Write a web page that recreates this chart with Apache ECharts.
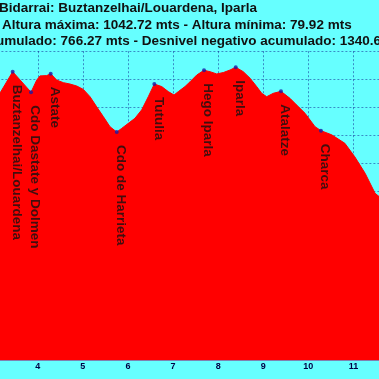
<!DOCTYPE html>
<html>
<head>
<meta charset="utf-8">
<script src="https://cdn.jsdelivr.net/npm/echarts@6/dist/echarts.min.js"></script>
<style>
html,body{margin:0;padding:0;background:#66ffff;width:379px;height:379px;overflow:hidden;position:relative;}
#c{position:absolute;left:-143px;top:0;width:542px;height:379px;}
</style>
</head>
<body>
<div id="c"></div>
<script>
// ---- data ----
var titleLine1 = 'Bidarrai: Buztanzelhai/Louardena, Iparla';
var titleLine2 = 'Altura máxima: 1042.72 mts - Altura mínima: 79.92 mts';
var titleLine3 = 'Desnivel positivo acumulado: 766.27 mts - Desnivel negativo acumulado: 1340.6';
var titleLine3Tail = '5 mts';

var distKm = [3.0, 3.163, 3.444, 3.850, 3.977, 4.050, 4.198, 4.287, 4.420, 4.567, 4.715, 4.864, 5.010, 5.159, 5.307, 5.454, 5.602, 5.751, 5.861, 6.008, 6.155, 6.305, 6.451, 6.585, 6.749, 6.895, 7.022, 7.117, 7.265, 7.377, 7.525, 7.687, 7.820, 7.969, 8.115, 8.264, 8.390, 8.558, 8.707, 8.855, 8.966, 9.077, 9.224, 9.394, 9.594, 9.743, 9.927, 10.149, 10.280, 10.519, 10.810, 11.030, 11.260, 11.480, 11.570, 11.750];
var altitude = [900, 951, 1027, 954, 997, 1012, 1013, 1020, 997, 988, 983, 976, 964, 938, 902, 867, 831, 812, 825, 843, 861, 891, 938, 983, 974, 956, 944, 956, 974, 991, 1015, 1032, 1027, 1019, 1024, 1033, 1042.72, 1027, 1004, 974, 950, 938, 950, 957, 932, 908, 879, 831, 817, 802, 772, 724, 665, 594, 582, 540];

var peakNames = ['Buztanzelhai/Louardena', 'Cdo Dastate y Dolmen', 'Astate', 'Cdo de Harrieta', 'Tutulia', 'Hego Iparla', 'Iparla', 'Atalatze', 'Charca'];
var peakKm = [3.444, 3.850, 4.287, 5.751, 6.585, 7.687, 8.390, 9.394, 10.280];
var peakAlt = [1027, 954, 1020, 812, 983, 1032, 1042.72, 957, 817];

var xMin = 0, xMax = 12, xInterval = 1;
var yMin = 0, yMax = 1100, yInterval = 100;

// ---- build ----
var profile = distKm.map(function (d, i) { return [d, altitude[i]]; });
var peaks = peakNames.map(function (n, i) { return { name: n, value: [peakKm[i], peakAlt[i]] }; });

var shift = 143; // chart container is shifted left by this many px
var titleFont = 'bold 13.5px "Liberation Sans", Arial, sans-serif';
var cv = document.createElement('canvas').getContext('2d');
cv.font = titleFont;
var w3 = cv.measureText(titleLine3).width;

var chart = echarts.init(document.getElementById('c'), null, { renderer: 'canvas' });
var gridLine = { show: true, lineStyle: { color: 'rgba(0,0,128,0.45)', type: [2, 2], width: 1 } };
chart.setOption({
  animation: false,
  backgroundColor: '#66ffff',
  grid: { left: 0.4, right: 0.5, top: 51.2, bottom: 19, containLabel: false, outerBoundsMode: 'none' },
  xAxis: {
    type: 'value', min: xMin, max: xMax, interval: xInterval,
    axisLine: { show: true, lineStyle: { color: '#8080b0', width: 1 } },
    axisTick: { show: false },
    axisLabel: { show: true, color: '#000044', fontSize: 9, fontWeight: 'bold', margin: 2, fontFamily: '"Liberation Sans", Arial, sans-serif' },
    splitLine: gridLine
  },
  yAxis: {
    type: 'value', min: yMin, max: yMax, interval: yInterval,
    axisLine: { show: false }, axisTick: { show: false }, axisLabel: { show: false },
    splitLine: gridLine
  },
  series: [
    {
      type: 'line', data: profile, symbol: 'none', smooth: false,
      lineStyle: { color: '#ff0000', width: 1 },
      areaStyle: { color: '#ff0000', opacity: 1 },
      z: 2
    },
    {
      type: 'scatter', data: peaks, symbol: 'circle', symbolSize: 4,
      itemStyle: { color: '#1a1aa8' },
      z: 5,
      label: {
        show: true, formatter: '{b}', rotate: -90,
        position: [-1, 15], align: 'left', verticalAlign: 'bottom',
        color: '#111111', fontSize: 13.5, fontWeight: 'bold', lineHeight: 14,
        fontFamily: '"Liberation Sans", Arial, sans-serif'
      }
    }
  ],
  graphic: [
    { type: 'text', x: shift - 1, y: 8.6, style: { text: titleLine1, font: titleFont, fill: '#111111', textAlign: 'left', textVerticalAlign: 'middle' }, z: 10 },
    { type: 'text', x: shift + 2, y: 25.3, style: { text: titleLine2, font: titleFont, fill: '#111111', textAlign: 'left', textVerticalAlign: 'middle' }, z: 10 },
    { type: 'text', x: shift + 381 - w3, y: 41.6, style: { text: titleLine3 + titleLine3Tail, font: titleFont, fill: '#111111', textAlign: 'left', textVerticalAlign: 'middle' }, z: 10 }
  ]
});
</script>
</body>
</html>
